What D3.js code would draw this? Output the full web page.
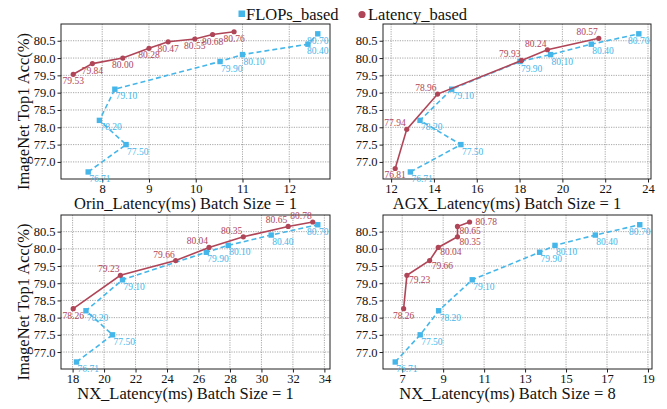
<!DOCTYPE html>
<html lang="en">
<head>
  <meta charset="UTF-8">
  <title>Latency vs Accuracy</title>
  <script src="https://d3js.org/d3.v7.min.js"></script>
  <style>
    body { margin: 0; background: #fff; }
    text { font-family: "Liberation Serif", "DejaVu Serif", serif; }
  </style>
</head>
<body>
  <svg width="667" height="409"></svg>

  <script>
    // accuracy values (shared y)
    const flopsAcc = [76.71, 77.50, 78.20, 79.10, 79.90, 80.10, 80.40, 80.70];
    const yTicks = [77.0, 77.5, 78.0, 78.5, 79.0, 79.5, 80.0, 80.5];

    // Orin, batch size 1
    const orinFlopsLat = [7.70, 8.51, 7.94, 8.27, 10.52, 11.00, 12.40, 12.61];
    const orinLatAcc = [79.53, 79.84, 80.00, 80.28, 80.47, 80.55, 80.68, 80.76];
    const orinLatLat = [7.38, 7.79, 8.44, 9.00, 9.41, 9.98, 10.36, 10.82];
    const orinTicks = [8, 9, 10, 11, 12];

    // AGX, batch size 1
    const agxFlopsLat = [12.90, 15.26, 13.35, 14.83, 18.02, 19.45, 21.35, 23.57];
    const agxLatAcc = [76.81, 77.94, 78.96, 79.93, 80.24, 80.57];
    const agxLatLat = [12.19, 12.73, 14.17, 18.09, 19.30, 21.70];
    const agxTicks = [12, 14, 16, 18, 20, 22, 24];

    // NX, batch size 1
    const nx1FlopsLat = [18.25, 20.54, 18.85, 21.17, 26.50, 27.89, 30.62, 33.58];
    const nx1LatAcc = [78.26, 79.23, 79.66, 80.04, 80.35, 80.65, 80.78];
    const nx1LatLat = [18.04, 21.04, 24.55, 26.67, 28.85, 31.70, 33.26];
    const nx1Ticks = [18, 20, 22, 24, 26, 28, 30, 32, 34];

    // NX, batch size 8
    const nx8FlopsLat = [6.66, 7.88, 8.78, 10.42, 13.71, 14.46, 16.43, 18.60];
    const nx8LatAcc = [78.26, 79.23, 79.66, 80.04, 80.35, 80.65, 80.78];
    const nx8LatLat = [7.07, 7.23, 8.34, 8.76, 9.70, 9.70, 10.29];
    const nx8Ticks = [7, 9, 11, 13, 15, 17, 19];

    const blue = "#45b6e9";
    const red = "#b04558";

    const panels = [
      { left: 61, top: 24, w: 269, h: 155, xlabel: "Orin_Latency(ms) Batch Size = 1",
        flops: orinFlopsLat, latX: orinLatLat, latY: orinLatAcc, ticks: orinTicks, redMode: "below", ylabel: true },
      { left: 383, top: 24, w: 268, h: 155, xlabel: "AGX_Latency(ms) Batch Size = 1",
        flops: agxFlopsLat, latX: agxLatLat, latY: agxLatAcc, ticks: agxTicks, redMode: "aboveLeft" },
      { left: 61, top: 215, w: 269, h: 154, xlabel: "NX_Latency(ms) Batch Size = 1",
        flops: nx1FlopsLat, latX: nx1LatLat, latY: nx1LatAcc, ticks: nx1Ticks, redMode: "aboveLeft", ylabel: true },
      { left: 383, top: 215, w: 269, h: 154, xlabel: "NX_Latency(ms) Batch Size = 8",
        flops: nx8FlopsLat, latX: nx8LatLat, latY: nx8LatAcc, ticks: nx8Ticks, redMode: "belowRight" }
    ];

    const svg = d3.select("svg");

    // shared y domain with 5% margins, like matplotlib
    const allAcc = flopsAcc.concat(orinLatAcc, agxLatAcc, nx1LatAcc, nx8LatAcc);
    const [yMin, yMax] = d3.extent(allAcc);
    const yPad = (yMax - yMin) * 0.05;

    panels.forEach(p => {
      const allX = p.flops.concat(p.latX);
      const [xMin, xMax] = d3.extent(allX);
      const xPad = (xMax - xMin) * 0.05;

      const x = d3.scaleLinear().domain([xMin - xPad, xMax + xPad]).range([0, p.w]);
      const y = d3.scaleLinear().domain([yMin - yPad, yMax + yPad]).range([p.h, 0]);

      const g = svg.append("g").attr("transform", `translate(${p.left},${p.top})`);

      // grid
      g.append("g").selectAll("line").data(p.ticks).enter().append("line")
        .attr("x1", d => x(d)).attr("x2", d => x(d)).attr("y1", 0).attr("y2", p.h)
        .attr("stroke", "#909090").attr("stroke-width", 0.8).attr("stroke-dasharray", "1.2,1.2");
      g.append("g").selectAll("line").data(yTicks).enter().append("line")
        .attr("y1", d => y(d)).attr("y2", d => y(d)).attr("x1", 0).attr("x2", p.w)
        .attr("stroke", "#909090").attr("stroke-width", 0.8).attr("stroke-dasharray", "1.2,1.2");

      // axes
      const xAxis = g.append("g").attr("transform", `translate(0,${p.h})`)
        .call(d3.axisBottom(x).tickValues(p.ticks).tickSize(3.5).tickSizeOuter(0).tickPadding(2).tickFormat(d3.format("d")));
      const yAxis = g.append("g")
        .call(d3.axisLeft(y).tickValues(yTicks).tickSize(3.5).tickSizeOuter(0).tickPadding(2).tickFormat(d3.format(".1f")));
      [xAxis, yAxis].forEach(a => {
        a.select(".domain").remove();
        a.selectAll("text").attr("font-size", 12.5).attr("fill", "#111");
        a.selectAll("line").attr("stroke", "#222");
      });

      // frame
      g.append("rect").attr("width", p.w).attr("height", p.h)
        .attr("fill", "none").attr("stroke", "#222").attr("stroke-width", 1);

      // FLOPs based series
      const flopsPts = p.flops.map((v, i) => ({ x: v, y: flopsAcc[i] }));
      g.append("path").datum(flopsPts)
        .attr("d", d3.line().x(d => x(d.x)).y(d => y(d.y)))
        .attr("fill", "none").attr("stroke", blue).attr("stroke-width", 1.6).attr("stroke-dasharray", "5,3");
      g.selectAll(".sq").data(flopsPts).enter().append("rect")
        .attr("x", d => x(d.x) - 2.7).attr("y", d => y(d.y) - 2.7)
        .attr("width", 5.4).attr("height", 5.4).attr("fill", blue);
      // keep labels inside the frame
      g.selectAll(".bl").data(flopsPts).enter().append("text")
        .attr("x", d => Math.min(x(d.x) + 1, p.w - 23)).attr("y", d => y(d.y) + 10)
        .attr("font-size", 9.5).attr("fill", blue).text(d => d.y.toFixed(2));

      // Latency based series
      const latPts = p.latX.map((v, i) => ({ x: v, y: p.latY[i] }));
      const last = latPts.length - 1;
      g.append("path").datum(latPts)
        .attr("d", d3.line().x(d => x(d.x)).y(d => y(d.y)))
        .attr("fill", "none").attr("stroke", red).attr("stroke-width", 1.6);
      g.selectAll(".dot").data(latPts).enter().append("circle")
        .attr("cx", d => x(d.x)).attr("cy", d => y(d.y)).attr("r", 2.6).attr("fill", red);
      g.selectAll(".rl").data(latPts).enter().append("text")
        .attr("x", (d, i) => {
          if (i === 0 || p.redMode === "below") return x(d.x);
          if (p.redMode === "aboveLeft") return x(d.x) - 1;
          return x(d.x) + (i === last ? 6 : 2);
        })
        .attr("y", (d, i) => {
          if (i > 0 && p.redMode === "aboveLeft") return y(d.y) - 3;
          if (i === last && p.redMode === "belowRight") return y(d.y) + 3;
          if (i > 0 && p.redMode === "belowRight") return y(d.y) + 8;
          return y(d.y) + 10;
        })
        .attr("text-anchor", (d, i) => {
          if (i === 0 || p.redMode === "below") return "middle";
          return p.redMode === "aboveLeft" ? "end" : "start";
        })
        .attr("font-size", 9.5).attr("fill", red).text(d => d.y.toFixed(2));

      // labels
      svg.append("text")
        .attr("x", p.left + p.w / 2 - 10).attr("y", p.top + p.h + 30)
        .attr("text-anchor", "middle").attr("font-size", 16.5).attr("fill", "#111")
        .text(p.xlabel);
      if (p.ylabel) {
        svg.append("text")
          .attr("transform", `translate(29,${p.top + p.h / 2 + 10}) rotate(-90)`)
          .attr("text-anchor", "middle").attr("font-size", 16.5).attr("fill", "#111")
          .text("ImageNet Top1 Acc(%)");
      }
    });

    // legend
    const legend = svg.append("g");
    legend.append("rect").attr("x", 238.5).attr("y", 10.5).attr("width", 6.5).attr("height", 6.5).attr("fill", blue);
    legend.append("text").attr("x", 246).attr("y", 20).attr("font-size", 16.5).attr("fill", "#111").text("FLOPs_based");
    legend.append("circle").attr("cx", 362).attr("cy", 14.5).attr("r", 3.6).attr("fill", red);
    legend.append("text").attr("x", 368).attr("y", 20).attr("font-size", 16.5).attr("fill", "#111").text("Latency_based");
  </script>
</body>
</html>
